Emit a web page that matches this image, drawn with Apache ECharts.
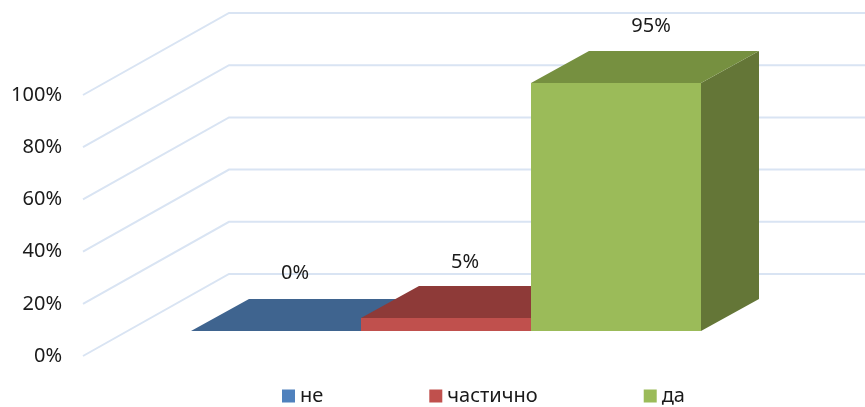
<!DOCTYPE html>
<html><head><meta charset="utf-8">
<style>html,body{margin:0;padding:0;background:#fff}#c{width:865px;height:407px}</style>
<script src="https://cdn.jsdelivr.net/npm/echarts@6/dist/echarts.min.js"></script>
</head><body><div id="c"></div>
<script>
const categories = ['не', 'частично', 'да'];
const values = [0, 5, 95];
const axisTicks = [0, 20, 40, 60, 80, 100];

const frontColors = ['#4F81BD', '#C0504D', '#9BBB59'];
const topColors = ['#3F648F', '#8E3A38', '#769040'];
const sideColors = ['#36567C', '#7A3230', '#647637'];
const labelShift = [19, 19, 35];
const labelLift = [58, 56, 57];

const wallDepth = [146, 82];
const barDepth = [58, 32];
const floorLift = 25;
const wallRight = 865;
const wallLeftOfGrid = 108;
const FONT = '"Noto Sans"';

const chart = echarts.init(document.getElementById('c'), null, {renderer: 'canvas'});

function renderWall(params, api) {
  const y = api.coord([0, api.value(1)])[1];
  const x0 = params.coordSys.x - wallLeftOfGrid;
  const st = {stroke: '#D9E4F3', lineWidth: 2, fill: null};
  return {type: 'polyline', shape: {points: [
    [x0, y], [x0 + wallDepth[0], y - wallDepth[1]], [wallRight, y - wallDepth[1]]
  ]}, style: st};
}

function makeBar(i) {
  return function (params, api) {
    const c = api.value(0);
    const base = api.coord([c, 0]);
    const tip = api.coord([c, api.value(1)]);
    const w = api.size([1, 0])[0];
    const l = base[0] - w / 2, r = base[0] + w / 2;
    const yb = base[1] - floorLift, yt = tip[1] - floorLift;
    const dx = barDepth[0], dy = barDepth[1];
    const kids = [];
    if (yb - yt > 0) {
      kids.push({type: 'polygon', shape: {points: [[r, yb], [r + dx, yb - dy], [r + dx, yt - dy], [r, yt]]}, style: {fill: sideColors[i]}});
      kids.push({type: 'rect', shape: {x: l, y: yt, width: w, height: yb - yt}, style: {fill: frontColors[i]}});
    }
    kids.push({type: 'polygon', shape: {points: [[l, yt], [l + dx, yt - dy], [r + dx, yt - dy], [r, yt]]}, style: {fill: topColors[i]}});
    kids.push({type: 'text', x: base[0] + labelShift[i], y: yt - labelLift[i], style: {
      text: api.value(1) + '%', fill: '#1a1a1a', font: '20px ' + FONT, textAlign: 'center', textVerticalAlign: 'middle'
    }});
    return {type: 'group', children: kids};
  };
}

const series = [{
  type: 'custom', silent: true, z: 1, renderItem: renderWall,
  data: axisTicks.map(t => [0, t])
}];
categories.forEach((name, i) => {
  series.push({
    type: 'custom', name: name, z: 2 + i, renderItem: makeBar(i),
    itemStyle: {color: frontColors[i]},
    data: [[i, values[i]]]
  });
});

chart.setOption({
  animation: false,
  backgroundColor: '#fff',
  grid: {left: 191, top: 95, width: 510, height: 261, outerBoundsMode: 'none'},
  legend: {
    data: categories, left: 277, top: 381, icon: 'rect', itemWidth: 13, itemHeight: 13,
    itemGap: 106, textStyle: {fontFamily: FONT, fontSize: 20, color: '#1a1a1a'}
  },
  xAxis: {type: 'category', data: categories, show: false},
  yAxis: {
    type: 'value', min: 0, max: 100, interval: 20,
    axisLine: {show: false}, axisTick: {show: false}, splitLine: {show: false},
    axisLabel: {margin: 129, formatter: '{value}%', color: '#1a1a1a', fontFamily: FONT, fontSize: 20, padding: [2, 0, 0, 0]}
  },
  series: series
});
</script></body></html>
